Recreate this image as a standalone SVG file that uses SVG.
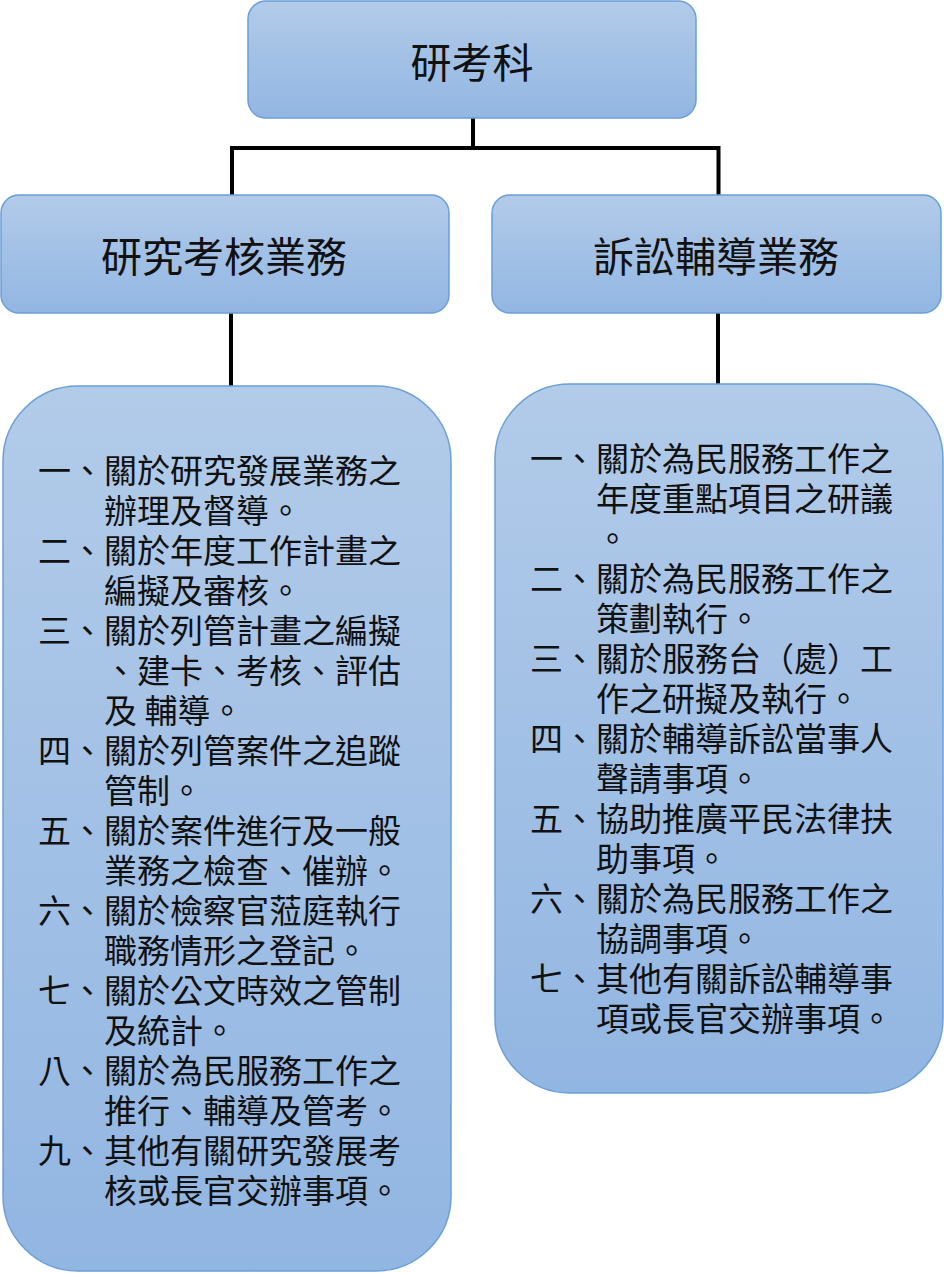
<svg xmlns="http://www.w3.org/2000/svg" width="944" height="1273" viewBox="0 0 944 1273">
<defs>
<linearGradient id="g" x1="0" y1="0" x2="0" y2="1">
<stop offset="0" stop-color="#b2cbe9"/>
<stop offset="1" stop-color="#92b6e2"/>
</linearGradient>
<style>
.box{fill:url(#g);stroke:#6a9fd8;stroke-width:1.5}
.conn{stroke:#000;stroke-width:4;fill:none;stroke-linecap:square}
.h{font-family:"Noto Sans CJK TC","Noto Sans CJK SC",sans-serif;font-size:41px;fill:#111;text-anchor:middle}
.t{font-family:"Noto Sans CJK TC","Noto Sans CJK SC",sans-serif;font-size:33px;fill:#111}
</style>
</defs>
<rect width="944" height="1273" fill="#fff"/>
<g id="connectors">
<path class="conn" d="M473 119 V148 M232 148 H718.5 M232 148 V194 M718.5 148 V194"/>
<path class="conn" d="M231 314 V385 M718 314 V383"/>
</g>
<g id="node-top">
<rect class="box" x="248" y="1" width="448" height="117" rx="18"/>
<text class="h" x="472" y="78">研考科</text>
</g>
<g id="node-left-head">
<rect class="box" x="1" y="195" width="448" height="118" rx="18"/>
<text class="h" x="224" y="272">研究考核業務</text>
</g>
<g id="node-right-head">
<rect class="box" x="492" y="195" width="449" height="118" rx="18"/>
<text class="h" x="716" y="272">訴訟輔導業務</text>
</g>
<g id="node-left-body">
<rect class="box" x="3" y="386" width="448" height="885" rx="75"/>
<text class="t">
<tspan x="38" y="483">一、關於研究發展業務之</tspan>
<tspan x="104" y="523">辦理及督導。</tspan>
<tspan x="38" y="563">二、關於年度工作計畫之</tspan>
<tspan x="104" y="603">編擬及審核。</tspan>
<tspan x="38" y="643">三、關於列管計畫之編擬</tspan>
<tspan x="104" y="683">、建卡、考核、評估</tspan>
<tspan x="104" y="723">及 輔導。</tspan>
<tspan x="38" y="763">四、關於列管案件之追蹤</tspan>
<tspan x="104" y="803">管制。</tspan>
<tspan x="38" y="843">五、關於案件進行及一般</tspan>
<tspan x="104" y="883">業務之檢查、催辦。</tspan>
<tspan x="38" y="923">六、關於檢察官蒞庭執行</tspan>
<tspan x="104" y="963">職務情形之登記。</tspan>
<tspan x="38" y="1003">七、關於公文時效之管制</tspan>
<tspan x="104" y="1043">及統計。</tspan>
<tspan x="38" y="1083">八、關於為民服務工作之</tspan>
<tspan x="104" y="1123">推行、輔導及管考。</tspan>
<tspan x="38" y="1163">九、其他有關研究發展考</tspan>
<tspan x="104" y="1203">核或長官交辦事項。</tspan>
</text>
</g>
<g id="node-right-body">
<rect class="box" x="495" y="384" width="448" height="709" rx="75"/>
<text class="t">
<tspan x="530" y="471">一、關於為民服務工作之</tspan>
<tspan x="596" y="511">年度重點項目之研議</tspan>
<tspan x="596" y="551">。</tspan>
<tspan x="530" y="591">二、關於為民服務工作之</tspan>
<tspan x="596" y="631">策劃執行。</tspan>
<tspan x="530" y="671">三、關於服務台（處）工</tspan>
<tspan x="596" y="711">作之研擬及執行。</tspan>
<tspan x="530" y="751">四、關於輔導訴訟當事人</tspan>
<tspan x="596" y="791">聲請事項。</tspan>
<tspan x="530" y="831">五、協助推廣平民法律扶</tspan>
<tspan x="596" y="871">助事項。</tspan>
<tspan x="530" y="911">六、關於為民服務工作之</tspan>
<tspan x="596" y="951">協調事項。</tspan>
<tspan x="530" y="991">七、其他有關訴訟輔導事</tspan>
<tspan x="596" y="1031">項或長官交辦事項。</tspan>
</text>
</g>
</svg>
